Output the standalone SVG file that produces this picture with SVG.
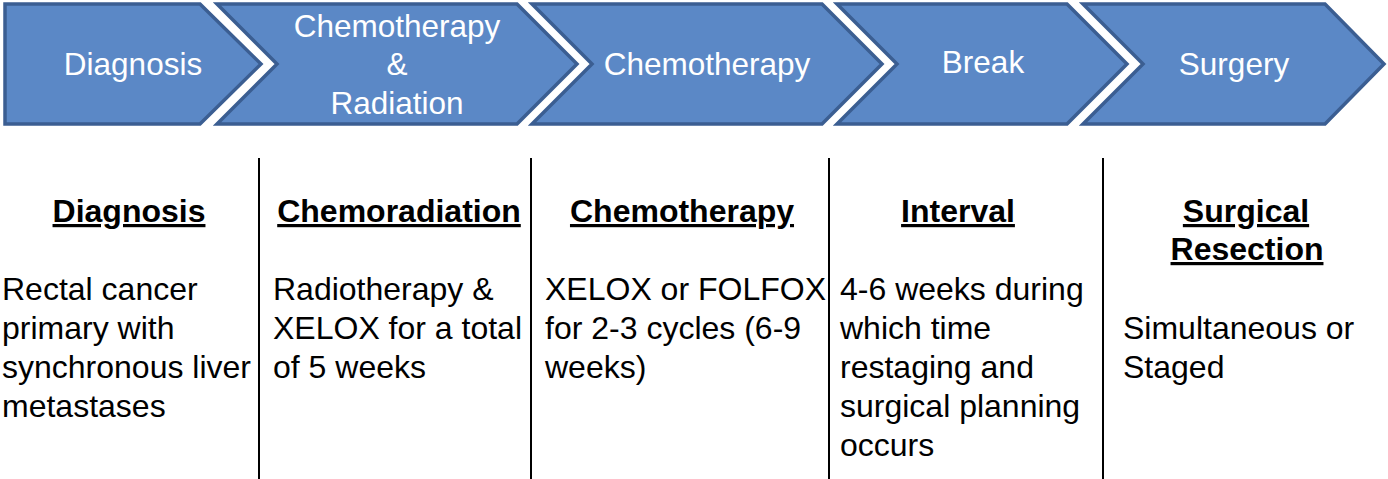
<svg xmlns="http://www.w3.org/2000/svg" width="1388" height="479" viewBox="0 0 1388 479">
<style>
.chev{fill:#5b88c6;stroke:#3b5e92;stroke-width:3.5;stroke-linejoin:miter}
.ct{font-family:"Liberation Sans",Arial,sans-serif;font-size:31.5px;fill:#ffffff;text-anchor:middle}
.hd{font-family:"Liberation Sans",Arial,sans-serif;font-size:32px;font-weight:bold;fill:#000;text-anchor:middle;text-decoration:underline}
.bd{font-family:"Liberation Sans",Arial,sans-serif;font-size:32px;fill:#000}
.sep{stroke:#000;stroke-width:2}
</style>
<rect width="1388" height="479" fill="#ffffff"/>
<g id="chev1">
<polygon class="chev" points="5,4 200,4 261,64 200,124 5,124"/>
<text class="ct" x="133" y="75">Diagnosis</text>
</g>
<g id="chev2">
<polygon class="chev" points="217,4 517,4 577,64 517,124 217,124 277,64"/>
<text class="ct" x="397" y="37">Chemotherapy</text>
<text class="ct" x="397" y="75">&amp;</text>
<text class="ct" x="397" y="114">Radiation</text>
</g>
<g id="chev3">
<polygon class="chev" points="532,4 822,4 882,64 822,124 532,124 592,64"/>
<text class="ct" x="707" y="75">Chemotherapy</text>
</g>
<g id="chev4">
<polygon class="chev" points="837,4 1067,4 1127,64 1067,124 837,124 897,64"/>
<text class="ct" x="983" y="73">Break</text>
</g>
<g id="chev5">
<polygon class="chev" points="1083,4 1325,4 1384,64 1325,124 1083,124 1143,64"/>
<text class="ct" x="1234" y="75">Surgery</text>
</g>
<g id="connectors">
<line class="sep" x1="259" y1="158" x2="259" y2="479"/>
<line class="sep" x1="531" y1="158" x2="531" y2="479"/>
<line class="sep" x1="829" y1="158" x2="829" y2="479"/>
<line class="sep" x1="1103" y1="158" x2="1103" y2="479"/>
</g>
<g id="col1">
<text class="hd" x="129" y="222">Diagnosis</text>
<text class="bd" x="2" y="300">Rectal cancer</text>
<text class="bd" x="2" y="339">primary with</text>
<text class="bd" x="2" y="378">synchronous liver</text>
<text class="bd" x="2" y="417">metastases</text>
</g>
<g id="col2">
<text class="hd" x="399" y="222">Chemoradiation</text>
<text class="bd" x="273" y="300">Radiotherapy &amp;</text>
<text class="bd" x="273" y="339">XELOX for a total</text>
<text class="bd" x="273" y="378">of 5 weeks</text>
</g>
<g id="col3">
<text class="hd" x="682" y="222">Chemotherapy</text>
<text class="bd" x="545" y="300">XELOX or FOLFOX</text>
<text class="bd" x="545" y="339">for 2-3 cycles (6-9</text>
<text class="bd" x="545" y="378">weeks)</text>
</g>
<g id="col4">
<text class="hd" x="958" y="222">Interval</text>
<text class="bd" x="840" y="300">4-6 weeks during</text>
<text class="bd" x="840" y="339">which time</text>
<text class="bd" x="840" y="378">restaging and</text>
<text class="bd" x="840" y="417">surgical planning</text>
<text class="bd" x="840" y="456">occurs</text>
</g>
<g id="col5">
<text class="hd" x="1246" y="222">Surgical</text>
<text class="hd" x="1247" y="260">Resection</text>
<text class="bd" x="1123" y="339">Simultaneous or</text>
<text class="bd" x="1123" y="378">Staged</text>
</g>
</svg>
